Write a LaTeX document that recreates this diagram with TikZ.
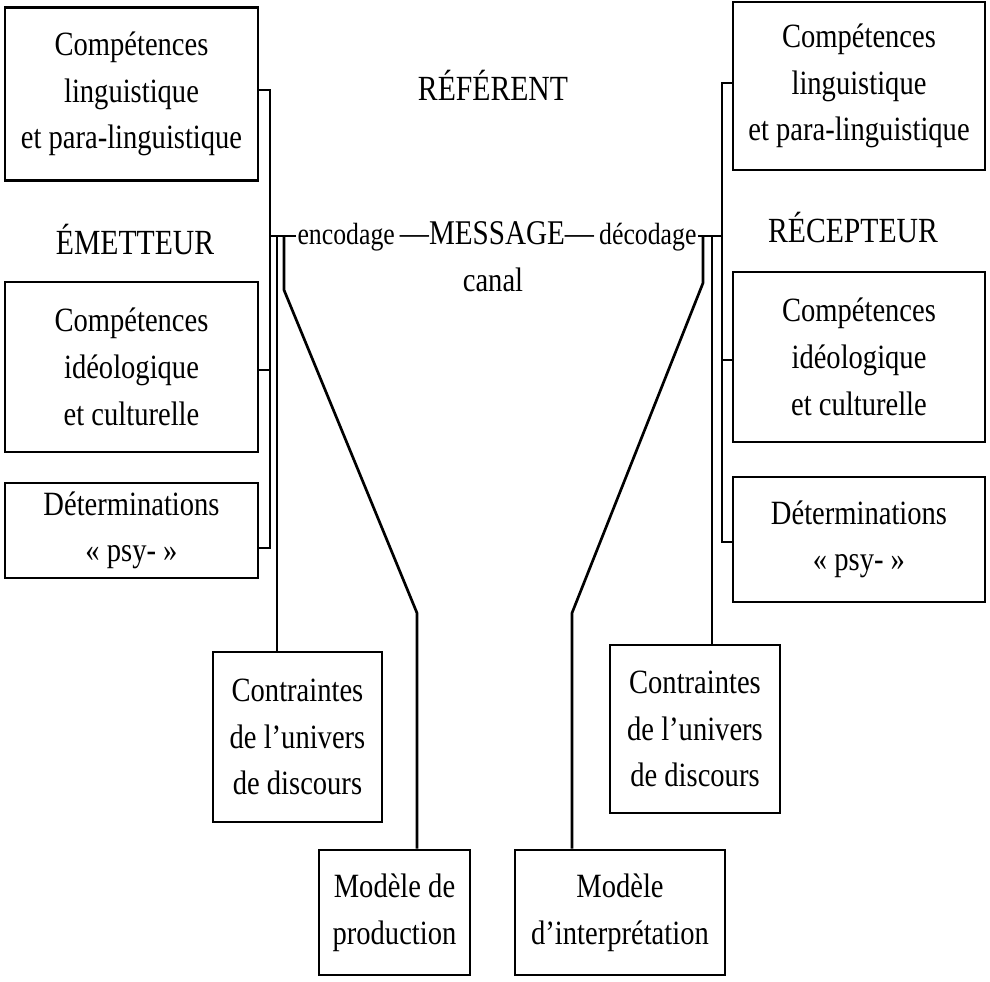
\documentclass[tikz,border=0pt]{standalone}
\usepackage{fontspec}
\setmainfont{Liberation Serif}[FakeStretch=0.84]
\usepackage{tikz}

\tikzset{
  box/.style={draw, line width=2pt, inner sep=0pt, align=center,
    font=\fontsize{25.5}{35}\selectfont},
  title/.style={inner sep=1pt, font=\fontsize{26.5}{34}\selectfont},
  link/.style={line width=2pt},
}

\begin{document}
\begin{tikzpicture}[x=0.75pt,y=0.75pt,yscale=-1,xscale=1]
%set diagram left start at 0, and has height of 982
\path (0,0) rectangle (990,982);

% Emetteur side
\node[box, minimum width=189.75pt, minimum height=129.75pt] (lc1) at (131.5,94) {Compétences\\linguistique\\et para-linguistique};
\node[box, minimum width=189.75pt, minimum height=127.5pt] (lc2) at (131.5,367) {Compétences\\idéologique\\et culturelle};
\node[box, minimum width=189.75pt, minimum height=71.25pt] (lc3) at (131.5,530.5) {Déterminations\\« psy- »};
\node[box, minimum width=126.75pt, minimum height=127.5pt] (lcon) at (297.5,737) {Contraintes\\de l’univers\\de discours};
\node[box, minimum width=113.25pt, minimum height=93.75pt] (lmod) at (394.5,912.5) {Modèle de\\production};

% Recepteur side
\node[box, minimum width=189pt, minimum height=126pt] (rc1) at (859,86) {Compétences\\linguistique\\et para-linguistique};
\node[box, minimum width=189pt, minimum height=127.5pt] (rc2) at (859,357) {Compétences\\idéologique\\et culturelle};
\node[box, minimum width=189pt, minimum height=93.75pt] (rc3) at (859,539.5) {Déterminations\\« psy- »};
\node[box, minimum width=127.5pt, minimum height=126pt] (rcon) at (695,729) {Contraintes\\de l’univers\\de discours};
\node[box, minimum width=157.5pt, minimum height=93.75pt] (rmod) at (620,912.5) {Modèle\\d’interprétation};

% Text Node
\node[title] (ref) at (493,85) {RÉFÉRENT};
\node[title] (emet) at (135,240) {ÉMETTEUR};
\node[title] (recep) at (853,228) {RÉCEPTEUR};
\node[title, font=\fontsize{23}{34}\selectfont] (msg) at (497,236) {encodage\,{\fontsize{26}{34}\selectfont —MESSAGE—}\,décodage};
\node[title, font=\fontsize{25.5}{34}\selectfont] (canal) at (493,280) {canal};

% Left connectors
\draw[link] (lc1.east |- 0,90) -- (270,90) -- (270,548) -- (lc3.east |- 0,548);
\draw[link] (lc2.east |- 0,370) -- (270,370);
\draw[link] (msg.west) -- (msg.west -| 270,0);
\draw[link] (msg.west -| 277,0) -- (lcon.north -| 277,0);
\draw[link] (msg.west -| 284,0) -- (284,290) -- (417,613) -- (lmod.north -| 417,0);

% Right connectors
\draw[link] (rc1.west |- 0,83) -- (722,83) -- (722,542) -- (rc3.west |- 0,542);
\draw[link] (rc2.west |- 0,360) -- (722,360);
\draw[link] (msg.east) -- (msg.east -| 722,0);
\draw[link] (msg.east -| 712,0) -- (rcon.north -| 712,0);
\draw[link] (msg.east -| 703,0) -- (703,283) -- (572,613) -- (rmod.north -| 572,0);

\end{tikzpicture}
\end{document}
